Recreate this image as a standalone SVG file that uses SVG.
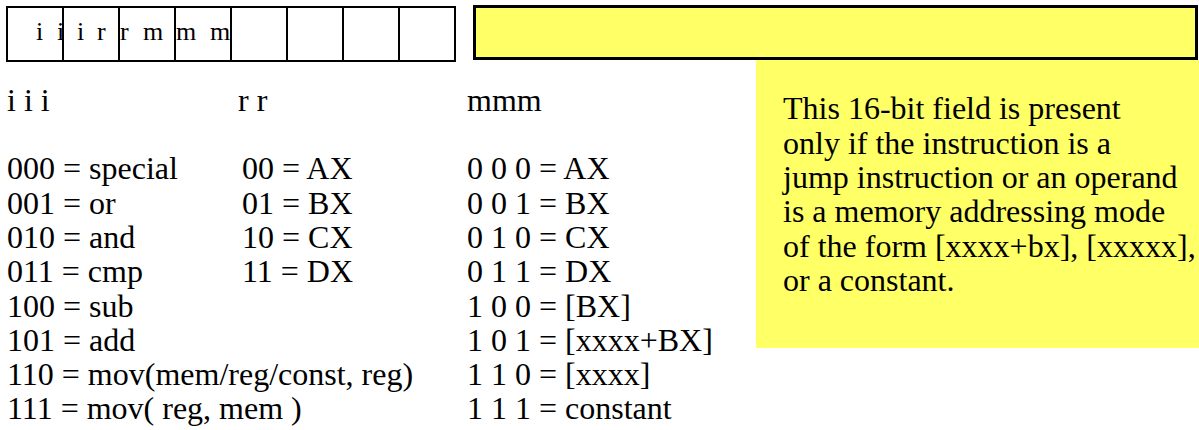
<svg xmlns="http://www.w3.org/2000/svg" width="1199" height="430" viewBox="0 0 1199 430">
  <style>
    text { font-family: "Liberation Serif", "Times New Roman", serif; fill: #000; }
    .t { font-size: 32px; }
    .cell { font-size: 26px; }
    .grid { fill: none; stroke: #000; stroke-width: 2; }
    .yellow { fill: #FFFF66; }
  </style>
  <rect width="1199" height="430" fill="#fff"/>

  <g id="opcode-byte">
    <rect class="grid" x="7" y="7" width="448" height="54"/>
    <path class="grid" d="M63 7V61M119 7V61M175 7V61M231 7V61M287 7V61M343 7V61M399 7V61"/>
    <text class="cell" x="36 57 77 97 120 143 176 210" y="40">iiirrmmm</text>
  </g>

  <g id="note-box">
    <rect class="yellow" x="756" y="60" width="443" height="288"/>
    <text class="t" x="783" y="119.3">This 16-bit field is present</text>
    <text class="t" x="783" y="153.6">only if the instruction is a</text>
    <text class="t" x="783" y="187.9">jump instruction or an operand</text>
    <text class="t" x="783" y="222.2">is a memory addressing mode</text>
    <text class="t" x="783" y="256.5">of the form [xxxx+bx], [xxxxx],</text>
    <text class="t" x="783" y="290.8">or a constant.</text>
  </g>

  <g id="operand-field">
    <rect class="yellow" x="474.5" y="6.5" width="722" height="52" stroke="#000" stroke-width="3"/>
  </g>

  <g id="iii-column">
    <text class="t" x="7" y="110.7">i i i</text>
    <text class="t" x="7" y="179.3">000 = special</text>
    <text class="t" x="7" y="213.6">001 = or</text>
    <text class="t" x="7" y="247.9">010 = and</text>
    <text class="t" x="7" y="282.2">011 = cmp</text>
    <text class="t" x="7" y="316.5">100 = sub</text>
    <text class="t" x="7" y="350.8">101 = add</text>
    <text class="t" x="7" y="385.1">110 = mov(mem/reg/const, reg)</text>
    <text class="t" x="7" y="419.4">111 = mov( reg, mem )</text>
  </g>

  <g id="rr-column">
    <text class="t" x="238" y="110.7">r r</text>
    <text class="t" x="242" y="179.3">00 = AX</text>
    <text class="t" x="242" y="213.6">01 = BX</text>
    <text class="t" x="242" y="247.9">10 = CX</text>
    <text class="t" x="242" y="282.2">11 = DX</text>
  </g>

  <g id="mmm-column">
    <text class="t" x="467" y="110.7">mmm</text>
    <text class="t" x="467" y="179.3">0 0 0 = AX</text>
    <text class="t" x="467" y="213.6">0 0 1 = BX</text>
    <text class="t" x="467" y="247.9">0 1 0 = CX</text>
    <text class="t" x="467" y="282.2">0 1 1 = DX</text>
    <text class="t" x="467" y="316.5">1 0 0 = [BX]</text>
    <text class="t" x="467" y="350.8">1 0 1 = [xxxx+BX]</text>
    <text class="t" x="467" y="385.1">1 1 0 = [xxxx]</text>
    <text class="t" x="467" y="419.4">1 1 1 = constant</text>
  </g>

  <g id="connectors"/>
</svg>
